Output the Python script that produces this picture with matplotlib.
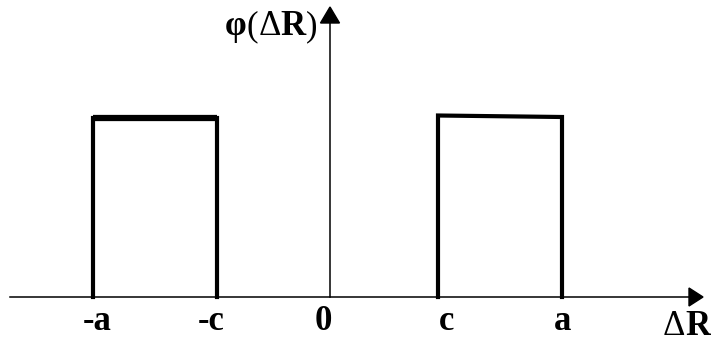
import matplotlib
matplotlib.use("Agg")
from matplotlib import pyplot as plt
from matplotlib.patches import Polygon
from matplotlib.transforms import offset_copy

# half-widths of the two boxes (a outer, c inner) and box heights
a_left, c_left = 2.37, 1.13
c_right, a_right = 1.08, 2.32
h_left = 1.795
h_right = [1.815, 1.80]

tick_pos = [-a_left, -c_left, 0.0, c_right, a_right]
tick_text = ["-a", "-c", "0", "c", "a"]
tick_shift = [0.04, -0.06, -0.07, 0.09, 0.01]

plt.rcParams["font.family"] = ["Liberation Serif", "DejaVu Serif"]

fig = plt.figure(figsize=(7.11, 3.42), dpi=100)
ax = fig.add_axes([0, 0, 1, 1])
ax.set_xlim(-3.30, 3.81)
ax.set_ylim(-0.45, 2.97)
ax.axis("off")

# axes with arrow heads
ax.plot([-3.20, 3.60], [0, 0], color="black", lw=1.1)
ax.plot([0, 0], [0, 2.80], color="black", lw=1.1)
ax.add_patch(Polygon([[3.59, 0.09], [3.73, 0.0], [3.59, -0.09]], closed=True, color="black"))
ax.add_patch(Polygon([[-0.095, 2.74], [0.0, 2.90], [0.095, 2.74]], closed=True, color="black"))

# left box
ax.plot([-a_left, -a_left, -c_left, -c_left], [0, h_left, h_left, 0],
        color="black", lw=3, solid_joinstyle="miter")
ax.plot([-a_left, -c_left], [h_left, h_left], color="black", lw=4.5, solid_capstyle="butt")

# right box, top edge slightly tilted
ax.plot([c_right, c_right, a_right, a_right], [0, h_right[0], h_right[1], 0],
        color="black", lw=3, solid_joinstyle="miter")

for x, s, d in zip(tick_pos, tick_text, tick_shift):
    ax.text(x + d, -0.33, s, ha="center", va="baseline", fontsize=25, fontweight="bold")


def mixed_text(x, y, parts, size=25):
    # draw (string, weight) pieces one after another on a common baseline
    fig.canvas.draw()
    renderer = fig.canvas.get_renderer()
    trans = ax.transData
    for s, w in parts:
        t = ax.text(x, y, s, ha="left", va="baseline", fontsize=size,
                    fontweight=w, transform=trans)
        ext = t.get_window_extent(renderer=renderer)
        trans = offset_copy(trans, fig=fig, x=ext.width * 72 / fig.dpi, units="points")


mixed_text(3.33, -0.38, [("Δ", "normal"), ("R", "bold")])
mixed_text(-1.05, 2.62, [("φ", "bold"), ("(", "normal"), ("Δ", "normal"),
                         ("R", "bold"), (")", "normal")])

fig.savefig("out.png", dpi=100)
